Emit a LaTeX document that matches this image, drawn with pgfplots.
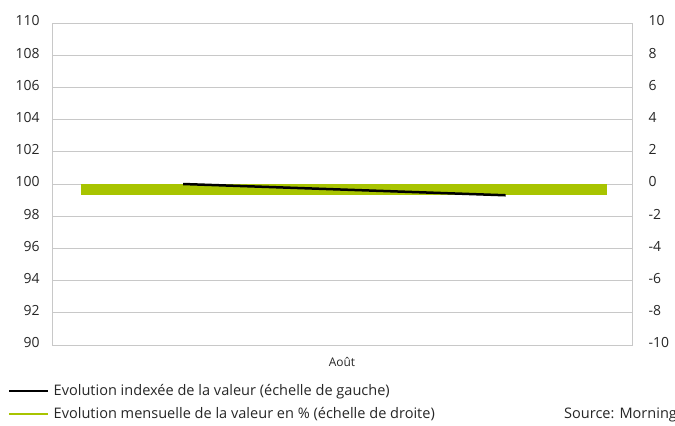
\documentclass[border=0pt]{standalone}
\usepackage{pgfplots}
\pgfplotsset{compat=1.18}
\usepackage{fontspec}
\setmainfont{Open Sans}
\definecolor{barg}{HTML}{A8C400}
\definecolor{gridg}{HTML}{C8C8C8}
\definecolor{txt}{HTML}{262626}
\begin{document}
\begin{tikzpicture}[x=1bp,y=1bp]
\useasboundingbox (0,0) rectangle (675,425);
% right scale: grid + bar
\begin{axis}[
  at={(52bp,80bp)}, anchor=south west,
  scale only axis, width=580bp, height=322bp,
  xmin=0, xmax=1, ymin=-10, ymax=10,
  ytick={-10,-8,...,10}, xtick=\empty,
  yticklabel pos=right,
  ymajorgrids, grid style={gridg, line width=0.8bp},
  axis line style={gridg, line width=0.8bp},
  major tick length=0pt,
  /pgf/number format/assume math mode=true,
  tick label style={font=\fontsize{14}{16}\selectfont, text=txt},
  yticklabel style={anchor=west, xshift=13bp, yshift=2bp},
]
\addplot[ybar, bar width=0.907, fill=barg, draw=none] coordinates {(0.503,-0.7)};
\end{axis}
% left scale: line + legend
\begin{axis}[
  at={(52bp,80bp)}, anchor=south west,
  scale only axis, width=580bp, height=322bp,
  xmin=0, xmax=1, ymin=90, ymax=110,
  ytick={90,92,...,110},
  xtick={0.5}, xticklabels={Août},
  axis line style={gridg, line width=0.8bp},
  major tick length=0pt,
  /pgf/number format/assume math mode=true,
  tick label style={font=\fontsize{14}{16}\selectfont, text=txt},
  yticklabel style={anchor=east, xshift=-9bp, yshift=2bp},
  xticklabel style={font=\fontsize{12}{14}\selectfont, yshift=-9bp},
  legend image code/.code={\draw[#1] (0bp,0bp) -- (39bp,0bp);},
  legend cell align=left,
  legend style={draw=none, fill=none, anchor=north west,
    at={(axis description cs:-0.0759,-0.12)},
    font=\fontsize{14.6}{16.6}\selectfont, text=txt,
    inner sep=0pt, row sep=8bp,
    nodes={inner xsep=4bp, inner ysep=1bp}},
]
\addplot[black, line width=2.5bp] coordinates {(0.226,100) (0.782,99.3)};
\addlegendentry{Evolution indexée de la valeur (échelle de gauche)}
\addlegendimage{barg, line width=2.5bp}
\addlegendentry{Evolution mensuelle de la valeur en \% (échelle de droite)}
\end{axis}
\node[anchor=base west, inner sep=0pt, font=\fontsize{14.6}{16.6}\selectfont, text=txt] at (564,7) {Source: Morningstar};
\end{tikzpicture}
\end{document}
